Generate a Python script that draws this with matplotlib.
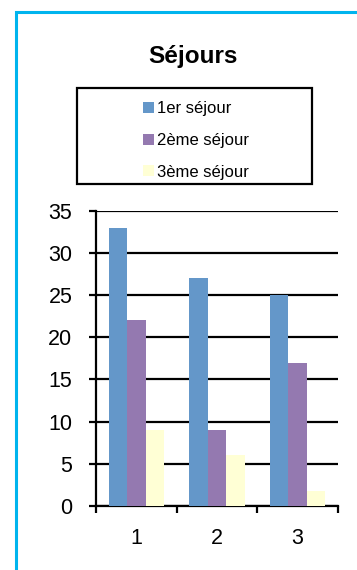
import matplotlib
matplotlib.use("Agg")
import matplotlib.pyplot as plt
from matplotlib.patches import Patch, Rectangle
import numpy as np

plt.rcParams['font.family'] = ['Liberation Sans', 'DejaVu Sans']

categories = ["1", "2", "3"]
series_names = ["1er séjour", "2ème séjour", "3ème séjour"]
sejour1 = [33, 27, 25]
sejour2 = [22, 9, 17]
sejour3 = [9, 6, 1.8]
yticks = [0, 5, 10, 15, 20, 25, 30, 35]
colors = ["#6497C9", "#9479B0", "#FFFFD5"]

fig = plt.figure(figsize=(3.57, 5.70), dpi=100)
W, H = 357, 570

# outer cyan frame (cut off at right/bottom)
fig.add_artist(Rectangle((15.5 / W, -0.1), 1.2, 1.1 - 12.5 / H, transform=fig.transFigure,
                         fill=False, edgecolor="#00B4EE", lw=2.2))

ax = fig.add_axes([96 / W, 1 - 506 / H, (338 - 96) / W, (506 - 210.7) / H])
x = np.arange(1, len(categories) + 1)
w = 0.23
for off, vals, c, name in zip([-w, 0, w], [sejour1, sejour2, sejour3], colors, series_names):
    ax.bar(x + off, vals, width=w, color=c, label=name, zorder=3)

ax.set_xlim(0.5, 3.5)
ax.set_ylim(0, 35)
ax.set_yticks(yticks)
ax.yaxis.grid(True, color="black", lw=1.6, zorder=1)
ax.set_axisbelow(True)
for s in ["top", "right"]:
    ax.spines[s].set_visible(False)
ax.spines["left"].set_linewidth(1.6)
ax.spines["bottom"].set_linewidth(1.6)
ax.set_xticks(x)
ax.set_xticklabels(categories)
ax.set_xticks([0.5, 1.5, 2.5, 3.5], minor=True)
ax.tick_params(axis="x", which="major", length=0, pad=16, labelsize=15.5)
ax.tick_params(axis="x", which="minor", length=5, width=1.6, direction="out")
ax.tick_params(axis="y", length=5, width=1.6, direction="out", labelsize=15.5, pad=12)

fig.text(193 / W, 1 - 56 / H, "Séjours", ha="center", va="center", fontsize=17.5, fontweight="bold")

# legend box
fig.add_artist(Rectangle((77 / W, 1 - 184 / H), (312 - 77) / W, (184 - 88) / H, transform=fig.transFigure,
                         fill=False, edgecolor="black", lw=1.6))
handles = [Patch(facecolor=c, edgecolor="none") for c in colors]
fig.legend(handles, series_names, loc="upper left", bbox_to_anchor=(135 / W, 1 - 93 / H),
           frameon=False, fontsize=12, handlelength=0.65, handleheight=0.65, handletextpad=0.15,
           labelspacing=1.0, borderpad=0)

fig.savefig("out.png", dpi=100)
